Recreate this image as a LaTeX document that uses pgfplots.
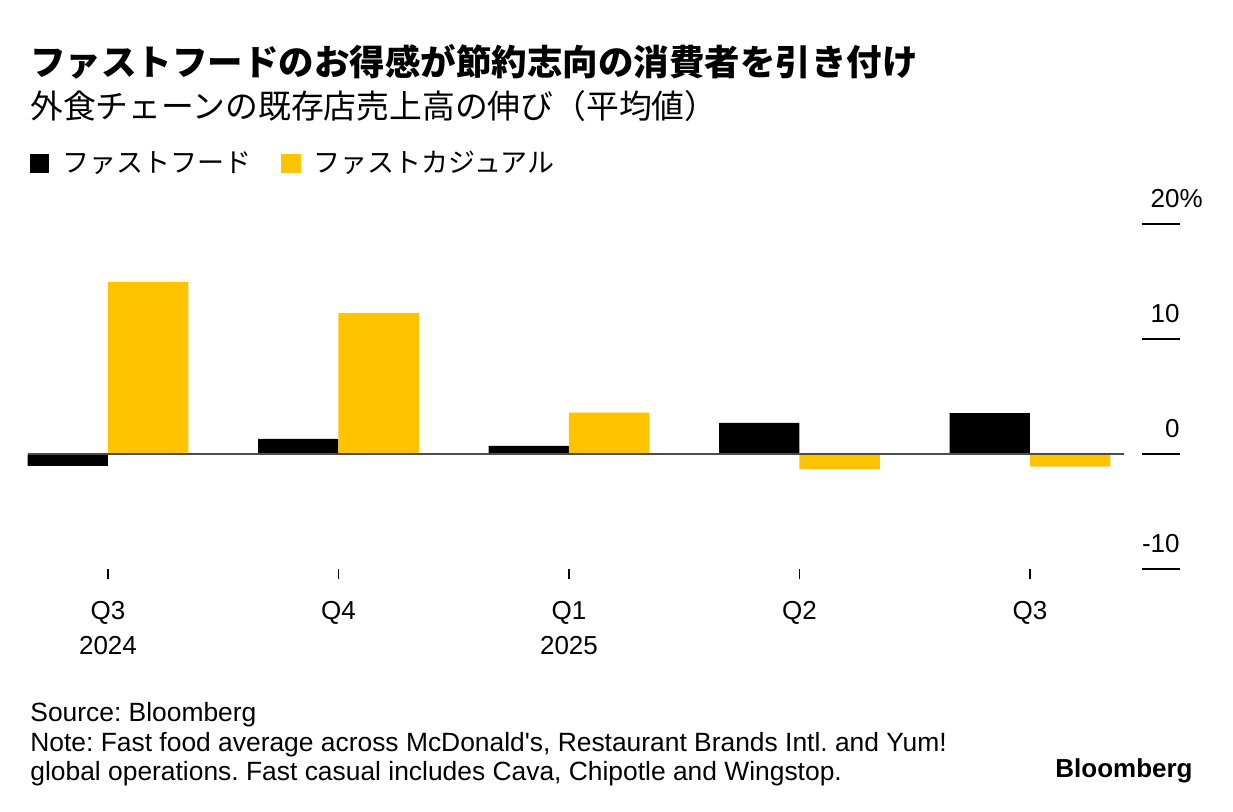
\documentclass[border=0pt]{standalone}
\usepackage{pgfplots}
\pgfplotsset{compat=1.18}
\usepackage{fontspec}
\setmainfont{Liberation Sans}
\newfontfamily\jp{Noto Sans CJK JP}
\definecolor{byellow}{RGB}{255,195,0}
\frenchspacing
\begin{document}
\begin{tikzpicture}
\path[use as bounding box] (0pt,0pt) rectangle (616.5pt,-406pt);
\node[anchor=base west, inner sep=0pt, font=\jp\bfseries\fontsize{17.75pt}{20pt}\selectfont] at (15pt,-38pt) {ファストフードのお得感が節約志向の消費者を引き付け};
\node[anchor=base west, inner sep=0pt, font=\jp\fontsize{16.4pt}{20pt}\selectfont] at (15pt,-59.25pt) {外食チェーンの既存店売上高の伸び（平均値）};
\begin{axis}[
  at={(14pt,-284.75pt)}, anchor=south west, scale only axis,
  width=576pt, height=172.5pt,
  xmin=-0.347, xmax=4.651, ymin=-10, ymax=20,
  ybar=0pt, bar width=0.349,
  axis x line*=bottom, axis y line*=right, axis line style={draw=none},
  xtick={0,1,2,3,4},
  xticklabels={{Q3\\2024},{Q4},{Q1\\2025},{Q2},{Q3}},
  xticklabel style={align=center, font=\fontsize{13pt}{17.5pt}\selectfont, inner sep=0pt, yshift=-10.5pt},
  x tick style={black, line width=0.8pt},
  major tick length=5pt, tick align=outside,
  ytick={-10,0,10,20},
  yticklabels={{-10},{0},{10},{20\rlap{\%}}},
  y tick style={draw=none},
  yticklabel style={anchor=base east, inner sep=0pt, font=\fontsize{13pt}{15pt}\selectfont, yshift=8.5pt, xshift=-5pt},
  legend columns=2,
  legend style={at={(0.0017,1.176)}, anchor=west, draw=none, fill=none, inner sep=0pt, outer sep=0pt,
    font=\jp\fontsize{13.5pt}{16pt}\selectfont,
    nodes={inner sep=0pt},
    /tikz/every odd column/.append style={column sep=6.5pt},
    /tikz/every even column/.append style={column sep=15pt}},
  legend image code/.code={\fill[#1] (0pt,-4.5pt) rectangle (9.75pt,5.0pt);},
  clip=false,
]
\addplot[fill=black, draw=none] coordinates {(0,-1.0) (1,1.35) (2,0.75) (3,2.75) (4,3.6)};
\addplot[fill=byellow, draw=none] coordinates {(0,15.0) (1,12.3) (2,3.65) (3,-1.25) (4,-1.05)};
\legend{ファストフード,ファストカジュアル}
\draw[black!70, line width=1pt] (axis cs:-0.347,0) -- (axis cs:4.41,0);
\draw[black, line width=1pt] (axis cs:4.485,20) -- (axis cs:4.651,20);
\draw[black, line width=1pt] (axis cs:4.485,10) -- (axis cs:4.651,10);
\draw[black, line width=1pt] (axis cs:4.485,0) -- (axis cs:4.651,0);
\draw[black, line width=1pt] (axis cs:4.485,-10) -- (axis cs:4.651,-10);
\end{axis}
\node[anchor=base west, inner sep=0pt, font=\fontsize{13.2pt}{15pt}\selectfont] at (15pt,-361pt) {Source: Bloomberg};
\node[anchor=base west, inner sep=0pt, font=\fontsize{13.2pt}{15pt}\selectfont] at (15pt,-376pt) {Note: Fast food average across McDonald\textquotesingle s, Restaurant Brands Intl. and Yum!};
\node[anchor=base west, inner sep=0pt, font=\fontsize{13.2pt}{15pt}\selectfont] at (15pt,-390.5pt) {global operations. Fast casual includes Cava, Chipotle and Wingstop.};
\node[anchor=base east, inner sep=0pt, font=\bfseries\fontsize{13pt}{15pt}\selectfont] at (596.5pt,-388.5pt) {Bloomberg};
\end{tikzpicture}
\end{document}
